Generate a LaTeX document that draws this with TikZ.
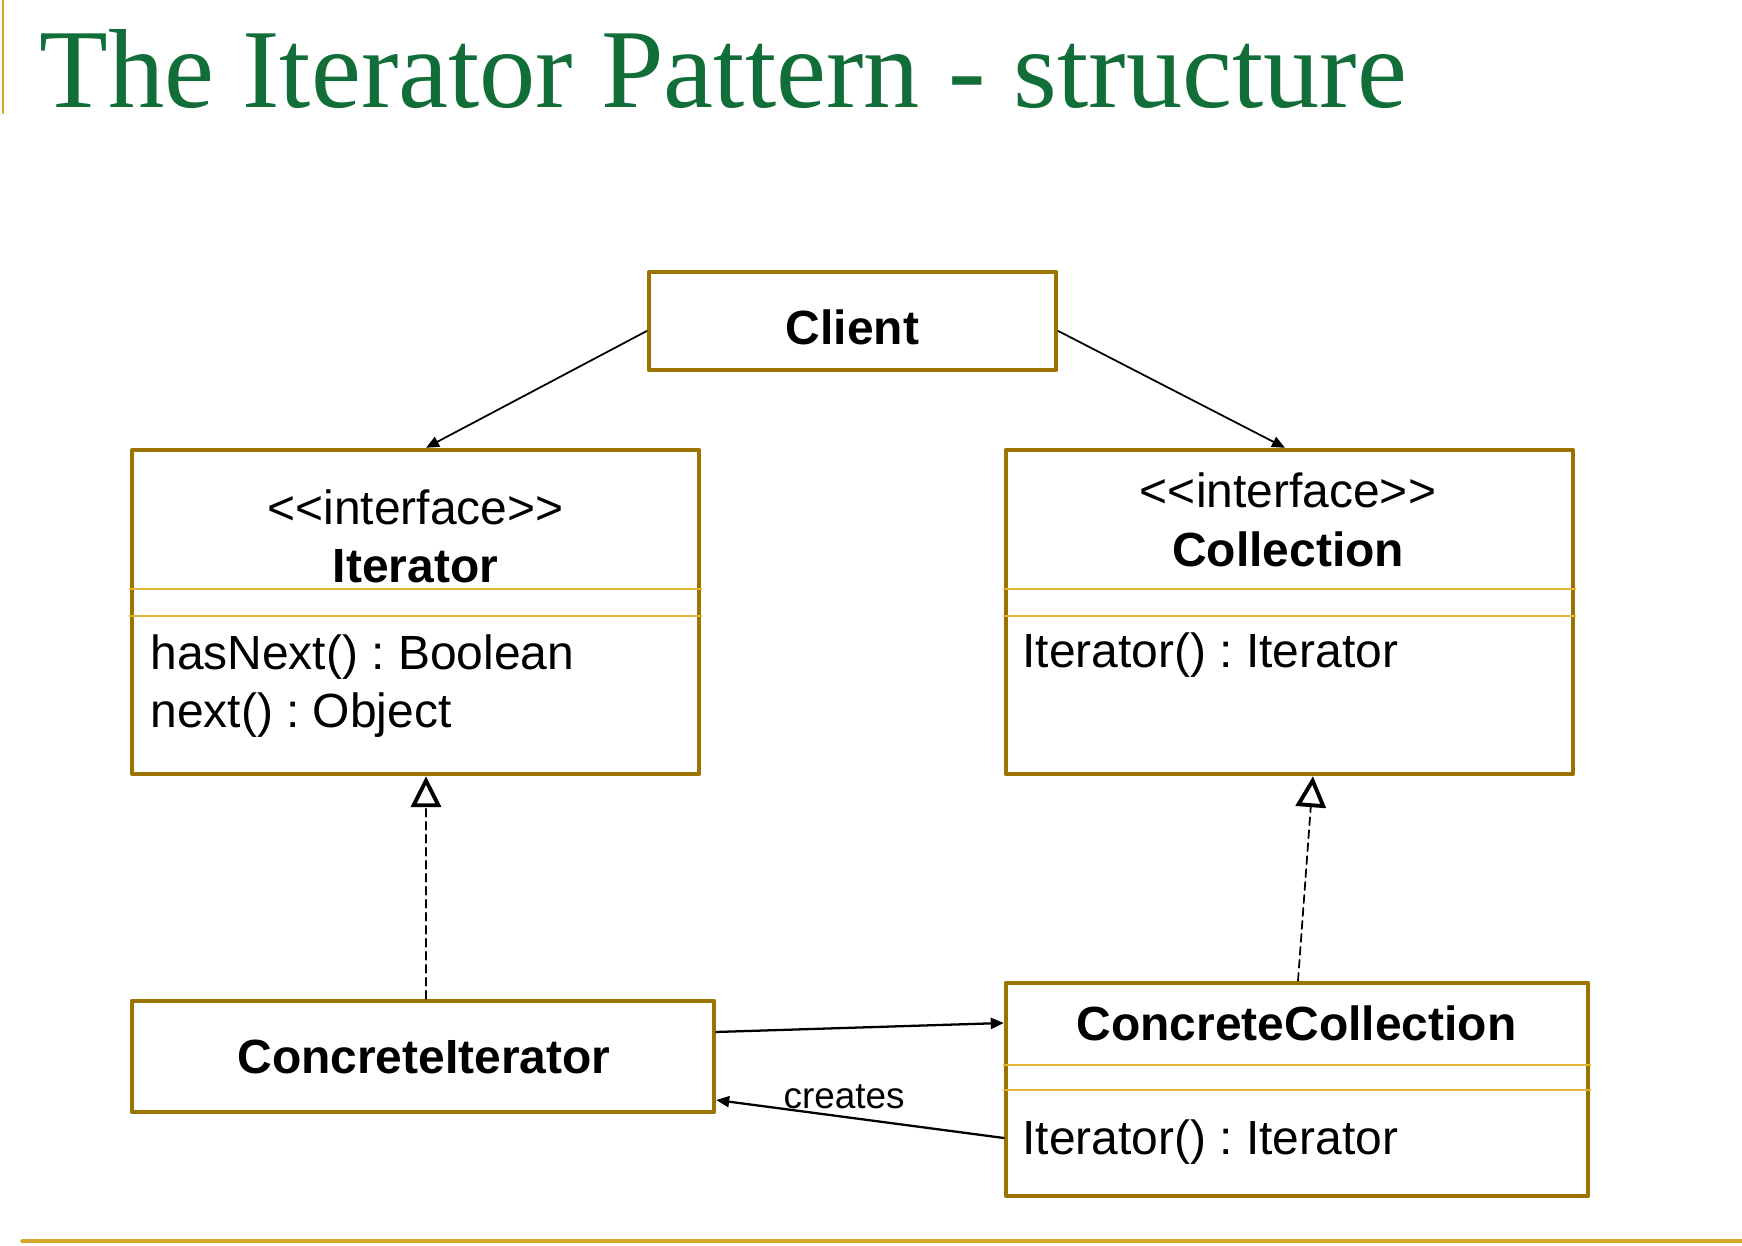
\documentclass[tikz,border=0pt]{standalone}
\usepackage{fontspec}
\setmainfont{Liberation Serif}
\setsansfont{Liberation Sans}
\usetikzlibrary{arrows.meta,calc,positioning}
\definecolor{umlgold}{RGB}{155,116,0}
\definecolor{umlsep}{RGB}{226,182,52}
\definecolor{umlrule}{RGB}{214,168,40}
\definecolor{umlgreen}{RGB}{18,110,56}

\begin{document}
\begin{tikzpicture}[>=Stealth,line cap=round,line join=round,
  classbox/.style={draw=umlgold,line width=2.5pt,fill=white,inner sep=0pt},
  umltext/.style={font=\sffamily\frenchspacing\fontsize{27.3pt}{33.5pt}\selectfont,inner sep=0pt},
  umlname/.style={umltext,font=\sffamily\bfseries\fontsize{27.3pt}{33.5pt}\selectfont},
  sepline/.style={umlsep,line width=1.4pt},
  assoc/.style={-{Triangle[length=0.26cm,width=0.22cm]},line width=1pt},
  realize/.style={-{Triangle[open,length=0.62cm,width=0.6cm,line width=2.2pt]},line width=1pt,dash pattern=on 0.16cm off 0.1cm}]
 \useasboundingbox (0,0) rectangle (34.84,24.92);
 % title and rules
 \draw[umlrule,line width=1.7pt] (0.06,24.92)--(0.06,22.66);
 \node[anchor=base west,inner sep=0pt,umlgreen,font=\fontsize{64pt}{70pt}\selectfont] (title) at (0.78,22.76) {The Iterator Pattern - structure};
 \draw[umlrule,line width=2pt] (0.44,0.10)--(34.84,0.10);
 % class boxes
 \node[classbox,minimum width=8.14cm,minimum height=1.96cm] (client) at (17.05,18.50) {};
 \node[classbox,minimum width=11.34cm,minimum height=6.48cm] (iter) at (8.31,12.68) {};
 \node[classbox,minimum width=11.34cm,minimum height=6.48cm] (coll) at (25.79,12.68) {};
 \node[classbox,minimum width=11.64cm,minimum height=2.22cm] (ci) at (8.46,3.79) {};
 \node[classbox,minimum width=11.64cm,minimum height=4.26cm] (cc) at (25.94,3.13) {};
 % compartments
 \draw[sepline] (iter.west |- 0,13.14) -- (iter.east |- 0,13.14);
 \draw[sepline] (iter.west |- 0,12.60) -- (iter.east |- 0,12.60);
 \draw[sepline] (coll.west |- 0,13.14) -- (coll.east |- 0,13.14);
 \draw[sepline] (coll.west |- 0,12.60) -- (coll.east |- 0,12.60);
 \draw[sepline] (cc.west |- 0,3.62) -- (cc.east |- 0,3.62);
 \draw[sepline] (cc.west |- 0,3.12) -- (cc.east |- 0,3.12);
 % texts
 \node[umlname,anchor=base] (clientname) at (17.05,18.02) {Client};
 \node[umltext,anchor=base] (iterstereo) at (8.31,14.42) {<{}<interface>{}>};
 \node[umlname,anchor=base] (itername) at (8.31,13.26) {Iterator};
 \node[umltext,anchor=north west,align=left] (itermeth) at (3.00,12.24)
  {hasNext() : Boolean\\next() : Object};
 \node[umltext,anchor=base] (collstereo) at (25.76,14.76) {<{}<interface>{}>};
 \node[umlname,anchor=base] (collname) at (25.76,13.58) {Collection};
 \node[umltext,anchor=base west] (collmeth) at (20.44,11.56) {Iterator() : Iterator};
 \node[umlname,anchor=base] (ciname) at (8.48,3.44) {ConcreteIterator};
 \node[umlname,anchor=base] (ccname) at (25.93,4.10) {ConcreteCollection};
 \node[umltext,anchor=base west] (ccmeth) at (20.44,1.82) {Iterator() : Iterator};
 % connectors
 \coordinate (iterfoot) at ([xshift=0.21cm]iter.south);
 \draw[assoc] ([yshift=-0.2cm]client.west) -- ([xshift=0.21cm]iter.north);
 \draw[assoc] ([yshift=-0.2cm]client.east) -- ([xshift=-0.09cm]coll.north);
 \draw[realize] (ci.north -| iterfoot) -- (iterfoot);
 \draw[realize] ([xshift=0.02cm]cc.north) -- ([xshift=0.47cm]coll.south);
 \draw[assoc,line width=1.3pt] ([yshift=0.49cm]ci.east) -- ([yshift=1.33cm]cc.west);
 \draw[assoc,line width=1.3pt] ([yshift=-0.97cm]cc.west) -- ([yshift=-0.87cm]ci.east)
  node[pos=0.555,anchor=base,yshift=0.16cm,umltext,font=\sffamily\fontsize{21pt}{24pt}\selectfont] (creates) {creates};
\end{tikzpicture}
\end{document}
